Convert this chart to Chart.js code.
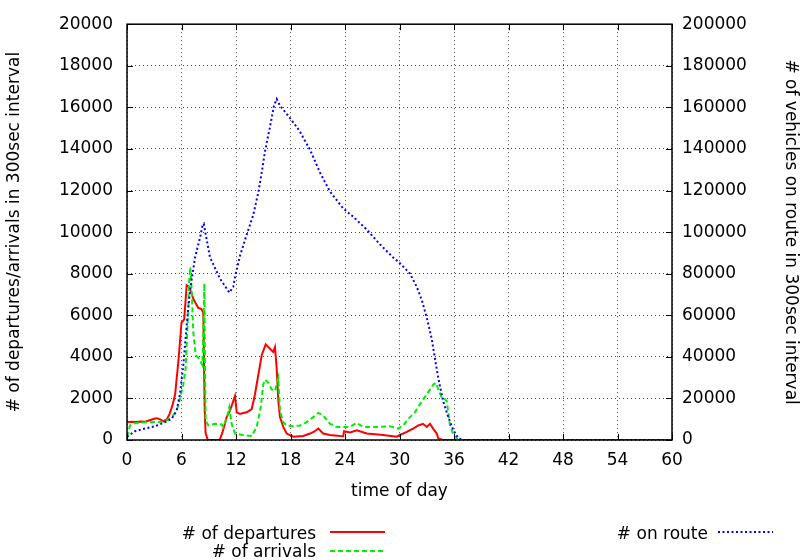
<!DOCTYPE html>
<html>
<head>
<meta charset="utf-8">
<script src="https://cdn.jsdelivr.net/npm/chart.js@4.4.1/dist/chart.umd.min.js"></script>
<style>
  body { margin: 0; background: #fff; }
  #wrap { position: relative; width: 805px; height: 560px; }
  .lg { position: absolute; font-family: 'DejaVu Sans', sans-serif; font-size: 17px; line-height: 18px; color: #000; text-align: right; white-space: nowrap; }
  svg.sample { position: absolute; }
</style>
</head>
<body>
<div id="wrap">
  <canvas id="chart" width="805" height="560"></canvas>
  <div class="lg" style="right: 489px; top: 524px;"># of departures</div>
  <div class="lg" style="right: 489px; top: 542px;"># of arrivals</div>
  <div class="lg" style="right: 97px; top: 524px;"># on route</div>
  <svg class="sample" style="left: 330px; top: 527px;" width="56" height="10"><line x1="0" y1="5" x2="55" y2="5" stroke="#ff0000" stroke-width="2"/></svg>
  <svg class="sample" style="left: 330px; top: 546px;" width="56" height="10"><line x1="0" y1="5" x2="55" y2="5" stroke="#00ee00" stroke-width="2" stroke-dasharray="5 3"/></svg>
  <svg class="sample" style="left: 718px; top: 527px;" width="56" height="10"><line x1="0" y1="5" x2="55" y2="5" stroke="#0000ff" stroke-width="2" stroke-dasharray="2 2.5"/></svg>
</div>
<script>
// departures per 300 s interval (left axis)
const depHours = [0, 0.5, 1, 1.5, 2, 2.5, 3, 3.3, 3.7, 4, 4.4, 4.7, 5.0, 5.3, 5.65, 6.0, 6.3, 6.57, 6.83, 7.1, 7.3, 7.56, 7.85, 8.2, 8.4, 8.55, 8.65, 8.9,
  10.2, 10.5, 10.97, 11.34, 11.89, 12.08, 12.44, 12.8, 13.18, 13.73, 14.09, 14.46, 14.83, 15.27, 15.74, 16.1, 16.29, 16.48, 16.66, 16.84, 17.2, 17.58,
  18.3, 19.4, 20.15, 20.6, 21.06, 21.6, 22.35, 23.45, 23.8, 23.9, 24.55, 25.3, 26.4, 27.3, 28.2, 29.7, 30.05, 30.8, 31.5, 32.07, 32.6, 33.0, 33.36,
  33.7, 34.1, 34.27, 34.8, 60];
const depValues = [850, 880, 870, 890, 880, 950, 1020, 1050, 980, 900, 1000, 1270, 1650, 2200, 3760, 5650, 5800, 7450, 7380, 7060, 6800, 6580, 6350, 6300, 6120, 1500, 330, 0,
  0, 350, 1100, 1410, 2120, 1330, 1250, 1300, 1330, 1490, 2200, 3140, 4080, 4600, 4390, 4240, 4470, 3450, 1880, 1100, 630, 310,
  160, 190, 310, 400, 550, 310, 240, 190, 180, 420, 360, 470, 310, 280, 240, 160, 240, 390, 550, 700, 780, 630, 780,
  550, 310, 80, 0, 0];

// arrivals per 300 s interval (left axis)
const arrHours = [0, 0.33, 0.88, 1.98, 3.08, 4.18, 4.92, 5.3, 5.65, 6.2, 6.45, 6.68, 6.83, 6.97, 7.12, 7.3, 7.56, 7.93, 8.29, 8.4, 8.51, 8.6, 8.66, 8.95,
  9.69, 10.42, 10.6, 10.97, 11.26, 11.52, 11.89, 12.8, 13.73, 14.28, 14.72, 15.0, 15.19, 15.56, 15.93, 16.29, 16.66, 16.84, 17.2, 17.58, 18.3, 19.05,
  19.78, 20.5, 21.06, 21.6, 22.35, 23.1, 23.8, 24.55, 25.3, 26.0, 27.5, 28.96, 29.87, 30.42, 30.97, 31.16, 31.7, 32.26, 33.0, 33.73, 34.02, 34.27,
  34.65, 34.9, 35.2, 35.56, 35.93, 36.48, 60];
const arrValues = [160, 700, 810, 850, 860, 890, 1100, 1300, 1650, 2670, 3450, 5650, 7530, 8310, 7210, 5180, 4080, 3920, 3610, 5000, 7530, 3000, 940, 700,
  780, 750, 630, 1020, 1570, 780, 310, 240, 190, 630, 1570, 2670, 2900, 2750, 2430, 2350, 2980, 1410, 860, 700, 660, 700,
  860, 1100, 1300, 1180, 780, 630, 630, 630, 820, 630, 630, 660, 550, 700, 1020, 1100, 1330, 1730, 2200, 2670, 2750, 2430,
  2040, 2000, 1880, 700, 240, 0, 0];

// vehicles on route (right axis)
const routeHours = [0, 0.88, 1.98, 3.08, 4.18, 4.92, 5.46, 5.83, 6.2, 6.57, 6.94, 7.49, 8.04, 8.33, 8.45, 9.14, 10.24, 11.27, 11.7, 11.89, 12.44,
  13.18, 13.9, 14.46, 14.83, 15.19, 15.74, 16.18, 16.48, 16.84, 17.58, 18.68, 19.05, 20.15, 21.25, 22.35, 23.8, 24.9, 26.4, 27.85, 29.3,
  30.05, 31.16, 31.9, 32.45, 33.0, 33.55, 33.9, 34.27, 34.8, 35.37, 35.93, 36.48, 37, 60];
const routeValues = [1600, 4200, 5500, 6600, 8600, 10200, 14100, 22000, 36100, 54900, 72100, 87800, 97300, 103500, 104000, 87800, 77600, 70900, 73700, 78400, 88600,
  98800, 108200, 119200, 128600, 138800, 150600, 160800, 164000, 160800, 156900, 150600, 148200, 139600, 128600, 119500, 111400, 107400, 101200, 94100, 87800,
  85000, 80000, 73700, 67400, 58800, 48600, 39200, 29800, 18800, 11000, 4700, 800, 0, 0];

const xTicks = [0, 6, 12, 18, 24, 30, 36, 42, 48, 54, 60];

function pairs(xs, ys) {
  return xs.map((x, i) => ({ x: x, y: ys[i] }));
}

Chart.defaults.font.family = "'DejaVu Sans', sans-serif";
Chart.defaults.font.size = 17;
Chart.defaults.color = '#000';

const gridColor = 'rgba(0,0,0,0.75)';
const plain = v => String(v); // no thousands separator

// gnuplot-like frame with inward tick marks
const framePlugin = {
  id: 'frame',
  afterDraw(chart) {
    const { ctx, chartArea: a, scales } = chart;
    ctx.save();
    ctx.strokeStyle = '#000';
    ctx.lineWidth = 1;
    ctx.beginPath();
    xTicks.forEach(v => {
      const px = Math.round(scales.x.getPixelForValue(v)) + 0.5;
      ctx.moveTo(px, a.bottom); ctx.lineTo(px, a.bottom - 6);
      ctx.moveTo(px, a.top); ctx.lineTo(px, a.top + 6);
    });
    scales.y.ticks.forEach(t => {
      const py = Math.round(scales.y.getPixelForValue(t.value)) + 0.5;
      ctx.moveTo(a.left, py); ctx.lineTo(a.left + 6, py);
    });
    scales.y2.ticks.forEach(t => {
      const py = Math.round(scales.y2.getPixelForValue(t.value)) + 0.5;
      ctx.moveTo(a.right, py); ctx.lineTo(a.right - 6, py);
    });
    ctx.stroke();
    ctx.lineWidth = 1.5;
    ctx.strokeRect(a.left, a.top, a.right - a.left, a.bottom - a.top);
    ctx.restore();
  }
};

new Chart(document.getElementById('chart'), {
  type: 'line',
  data: {
    datasets: [
      {
        label: '# of departures',
        data: pairs(depHours, depValues),
        yAxisID: 'y',
        borderColor: '#ff0000',
        borderWidth: 2,
        pointRadius: 0,
        tension: 0,
        order: 3
      },
      {
        label: '# of arrivals',
        data: pairs(arrHours, arrValues),
        yAxisID: 'y',
        borderColor: '#00ee00',
        borderWidth: 2,
        borderDash: [5, 3],
        pointRadius: 0,
        tension: 0,
        order: 2
      },
      {
        label: '# on route',
        data: pairs(routeHours, routeValues),
        yAxisID: 'y2',
        borderColor: '#0000ff',
        borderWidth: 2,
        borderDash: [2, 2.5],
        pointRadius: 0,
        tension: 0,
        order: 1
      }
    ]
  },
  options: {
    responsive: false,
    animation: false,
    layout: { padding: { top: 15 } },
    plugins: { legend: { display: false }, tooltip: { enabled: false } },
    scales: {
      x: {
        type: 'linear',
        min: 0,
        max: 60,
        afterBuildTicks: s => { s.ticks = xTicks.map(v => ({ value: v })); },
        ticks: { padding: 10, maxRotation: 0, autoSkip: false, callback: plain },
        grid: { color: gridColor, lineWidth: 1, drawTicks: false },
        border: { display: false, dash: [1, 3] },
        title: { display: true, text: 'time of day', padding: { top: 0, bottom: 58 } },
        afterFit: s => { s.height = 120; }
      },
      y: {
        position: 'left',
        min: 0,
        max: 20000,
        ticks: { stepSize: 2000, padding: 14, callback: plain },
        grid: { color: gridColor, lineWidth: 1, drawTicks: false },
        border: { display: false, dash: [1, 3] },
        title: { display: true, text: '# of departures/arrivals in 300sec interval', padding: { top: 4, bottom: 0 } },
        afterFit: s => { s.width = 127; }
      },
      y2: {
        position: 'right',
        min: 0,
        max: 200000,
        ticks: { stepSize: 20000, padding: 10, callback: plain },
        grid: { display: false, drawTicks: false },
        border: { display: false },
        title: { display: true, text: '# of vehicles on route in 300sec interval', padding: { top: 4, bottom: 0 } },
        afterFit: s => { s.width = 133; }
      }
    }
  },
  plugins: [framePlugin]
});
</script>
</body>
</html>
